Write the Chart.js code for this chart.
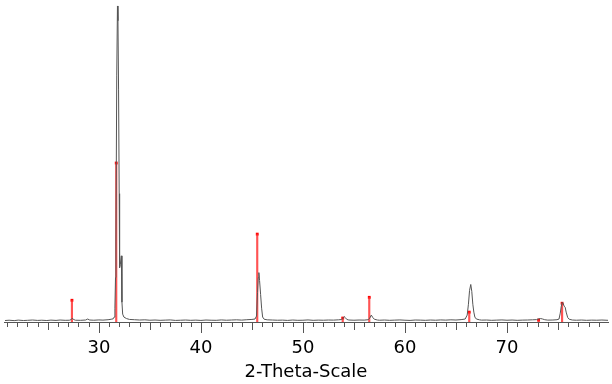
<!DOCTYPE html>
<html lang="en">
<head>
  <meta charset="UTF-8" />
  <title>XRD pattern</title>
  <script src="https://cdn.jsdelivr.net/npm/chart.js"></script>
  <style>
    body { margin: 0; padding: 0; background: #fff; }
    .wrap { width: 612px; height: 384px; position: relative; }
  </style>
</head>
<body>
  <div class="wrap"><canvas id="xrd"></canvas></div>

  <script>
    // measured pattern (2-theta, intensity in arbitrary units)
    const twoTheta = [
      20.8, 21.2, 21.7, 22.1, 22.6, 23.0, 23.5, 24.0, 24.4, 24.9, 25.3, 25.8, 26.2, 26.7, 27.1,
      27.3, 27.4, 27.5, 27.7, 28.2, 28.7, 28.9, 29.1, 29.5, 30.0, 30.4, 30.9, 31.2, 31.4,
      31.5, 31.57, 31.63, 31.67, 31.75, 31.82, 31.87, 31.93, 31.99, 32.03, 32.1, 32.2, 32.26, 32.33, 32.45, 32.7, 33.0,
      33.5, 34.0, 34.5, 35.0, 35.5, 36.0, 36.5, 37.0, 37.5, 38.0, 38.5, 39.0,
      39.5, 40.0, 40.5, 41.0, 41.5, 42.0, 42.5, 43.0, 43.5, 44.0, 44.5, 45.0,
      45.3, 45.45, 45.55, 45.62, 45.68, 45.75, 45.85, 45.95, 46.05, 46.2, 46.5,
      47.0, 47.5, 48.0, 48.5, 49.0, 49.5, 50.0, 50.5, 51.0, 51.5, 52.0, 52.5, 53.0, 53.5,
      53.8, 53.95, 54.05, 54.15, 54.3, 54.5,
      55.0, 55.5, 56.0, 56.4,
      56.55, 56.7, 56.85, 57.0, 57.3,
      57.5, 58.0, 58.5, 59.0, 59.5, 60.0, 60.5, 61.0, 61.5, 62.0, 62.5, 63.0, 63.5, 64.0, 64.5, 65.0, 65.5,
      65.9, 66.1, 66.22, 66.33, 66.45, 66.55, 66.65, 66.75, 66.85, 67.0, 67.3,
      67.5, 68.0, 68.5, 69.0, 69.5, 70.0, 70.5, 71.0, 71.5, 72.0, 72.5,
      72.9, 73.1, 73.3, 73.5, 73.7, 74.0,
      74.5, 74.9,
      75.1, 75.22, 75.32, 75.42, 75.5, 75.6, 75.7, 75.8, 75.95, 76.1, 76.4,
      76.8, 77.3, 77.8, 78.3, 78.8, 79.3, 79.9
    ];
    const intensity = [
      1.5, 1.8, 1.4, 1.9, 1.5, 1.7, 2.0, 1.6, 1.8, 1.5, 1.9, 1.6, 2.0, 1.7, 1.8,
      2.5, 4.0, 2.6, 1.8, 1.7, 2.0, 3.0, 2.0, 1.8, 2.1, 1.9, 2.3, 2.8, 3.2,
      5, 14, 45, 80, 250, 320, 305, 235, 130, 55, 58, 67, 20, 8, 5, 3.5, 2.6,
      2.3, 2.0, 2.2, 1.8, 2.0, 1.7, 1.9, 2.1, 1.6, 1.8, 2.0, 1.7,
      1.9, 1.6, 2.0, 1.8, 1.7, 2.1, 1.8, 2.0, 2.2, 1.9, 2.3, 2.6,
      3, 6, 30, 45, 50, 42, 28, 14, 5, 2.8, 2.2,
      2.0, 1.8, 1.9, 1.6, 2.0, 1.7, 1.8, 2.1, 1.7, 1.9, 1.8, 2.0, 1.9, 2.2,
      2.5, 4, 5.5, 4.5, 2.6, 2.0,
      1.8, 2.0, 1.9, 2.3,
      4, 7, 4.5, 2.8, 2.0,
      1.8, 2.0, 1.7, 1.9, 2.1, 1.8, 1.6, 2.0, 1.9, 1.7, 2.0, 1.8, 2.1, 1.9, 2.2, 2.0, 2.4,
      3, 7, 18, 32, 38, 31, 18, 10, 5, 3, 2.2,
      1.9, 2.0, 1.7, 1.9, 2.1, 1.8, 2.0, 1.7, 1.9, 2.0, 2.2,
      2.4, 3.2, 3.5, 3.0, 2.3, 1.9,
      2.0, 2.3,
      3, 9, 16, 20, 19, 16, 15, 10, 4.5, 2.8, 2.0,
      1.8, 2.0, 1.7, 1.9, 1.8, 2.0, 1.7
    ];

    // reference card lines
    const refTheta = [27.36, 31.7, 45.52, 53.9, 56.5, 66.3, 73.1, 75.4];
    const refIntensity = [22, 161, 89, 4, 25, 10, 2, 19];

    const pattern = twoTheta.map((t, i) => ({ x: t, y: intensity[i] }));
    const sticks = refTheta.map((t, i) => ({ x: t, y: refIntensity[i] }));

    // 1-degree ticks, longer every 5 and 10
    const degreeTicks = {
      id: 'degreeTicks',
      afterDraw(chart) {
        const xs = chart.scales.x;
        const c = chart.ctx;
        const y0 = chart.chartArea.bottom;
        c.save();
        c.strokeStyle = '#555';
        c.lineWidth = 1;
        for (let v = Math.ceil(xs.min); v <= xs.max; v++) {
          const len = v % 10 === 0 ? 11 : (v % 5 === 0 ? 8 : 5);
          const px = Math.round(xs.getPixelForValue(v)) + 0.5;
          c.beginPath();
          c.moveTo(px, y0);
          c.lineTo(px, y0 + len);
          c.stroke();
        }
        c.restore();
      }
    };

    new Chart(document.getElementById('xrd'), {
      type: 'line',
      data: {
        datasets: [
          {
            data: pattern,
            borderColor: '#555',
            borderWidth: 1,
            pointRadius: 0,
            tension: 0,
            order: 0
          },
          {
            type: 'bar',
            data: sticks,
            backgroundColor: 'rgba(255,40,40,0.8)',
            barThickness: 1.5,
            order: 1
          },
          {
            type: 'scatter',
            data: sticks,
            pointStyle: 'rect',
            pointRadius: 2,
            backgroundColor: '#ff0000',
            borderWidth: 0,
            order: 1
          }
        ]
      },
      options: {
        responsive: true,
        maintainAspectRatio: false,
        animation: false,
        layout: { padding: { left: 3, right: 3, top: 0, bottom: 0 } },
        plugins: {
          legend: { display: false },
          tooltip: { enabled: false }
        },
        scales: {
          x: {
            type: 'linear',
            min: 20.7,
            max: 79.9,
            offset: false,
            afterFit(scale) { scale.height = 62; },
            grid: { display: true, drawOnChartArea: false, drawTicks: false },
            border: { display: true, color: '#555', width: 1 },
            ticks: {
              stepSize: 10,
              includeBounds: false,
              padding: 16,
              color: '#000',
              font: { family: 'DejaVu Sans', size: 18 }
            },
            title: {
              display: true,
              text: '2-Theta-Scale',
              color: '#000',
              font: { family: 'DejaVu Sans', size: 18 },
              padding: { top: 0, bottom: 1 }
            }
          },
          y: {
            display: false,
            min: 0,
            max: 322
          }
        }
      },
      plugins: [degreeTicks]
    });
  </script>
</body>
</html>
